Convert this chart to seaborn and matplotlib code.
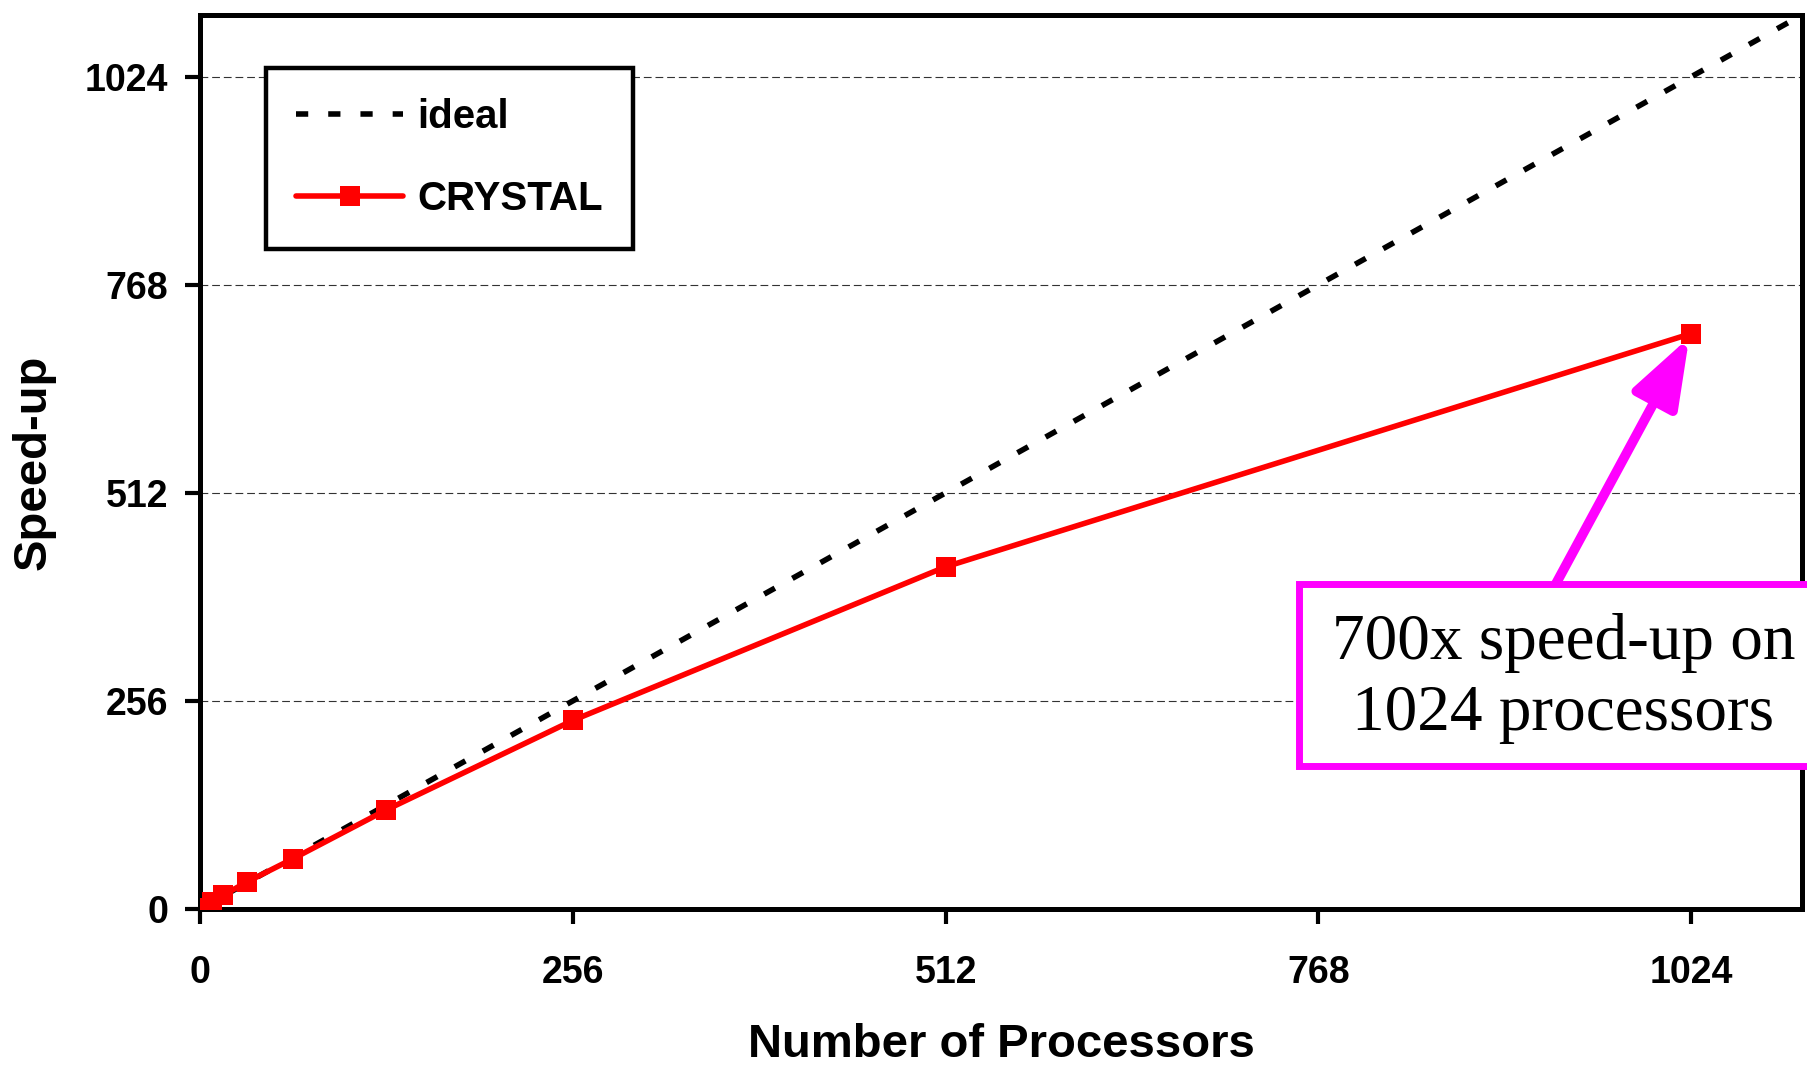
"""
Speed-up of CRYSTAL against the ideal linear scaling
"""

import matplotlib
matplotlib.use('Agg')
import matplotlib.pyplot as plt
import matplotlib.patches as mpatches
import seaborn as sns
import pandas as pd

# data
ideal_procs = [1, 8, 16, 32, 64, 128, 256, 512, 1024, 1100]
ideal_speedup = [1, 8, 16, 32, 64, 128, 256, 512, 1024, 1100]

crystal_procs = [1, 8, 16, 32, 64, 128, 256, 512, 1024]
crystal_speedup = [1, 8, 17, 33, 62, 122, 232, 421, 708]

tick_values = [0, 256, 512, 768, 1024]
note_text = '700x speed-up on\n1024 processors'

sns.set_style('white')
plt.rcParams['font.family'] = ['Liberation Sans', 'DejaVu Sans']
plt.rcParams['text.color'] = 'black'
plt.rcParams['axes.labelcolor'] = 'black'
plt.rcParams['xtick.color'] = 'black'
plt.rcParams['ytick.color'] = 'black'

ideal_df = pd.DataFrame({'procs': ideal_procs, 'speedup': ideal_speedup})
crystal_df = pd.DataFrame({'procs': crystal_procs, 'speedup': crystal_speedup})

fig = plt.figure(figsize=(18.07, 10.68), dpi=100, facecolor='white')
ax = fig.add_axes([0.1107, 0.1489, 0.8865, 0.8371])

# ideal scaling
sns.lineplot(data=ideal_df, x='procs', y='speedup', ax=ax, color='black',
             linewidth=4.0, linestyle=(0, (2.2, 3.6)), sort=False,
             errorbar=None, label='ideal', zorder=3)

# measured CRYSTAL speed-up
sns.lineplot(data=crystal_df, x='procs', y='speedup', ax=ax, color='#ff0000',
             linewidth=4.0, marker='s', markersize=15, markeredgewidth=0,
             sort=False, errorbar=None, label='CRYSTAL', zorder=4)

ax.set_xlim(0, 1100)
ax.set_ylim(0, 1100)
ax.set_xticks(tick_values)
ax.set_yticks(tick_values)
ax.set_xticklabels([str(v) for v in tick_values], fontsize=27, fontweight='bold')
ax.set_yticklabels([str(v) for v in tick_values], fontsize=27, fontweight='bold')
ax.tick_params(axis='both', direction='out', length=11, width=3,
               color='black', labelcolor='black', left=True, bottom=True)
ax.tick_params(axis='x', pad=22)
ax.tick_params(axis='y', pad=12)

ax.grid(axis='y', linestyle=(0, (7, 3.5)), color='#333333', linewidth=0.8)
ax.grid(axis='x', visible=False)
ax.set_axisbelow(True)

for side in ['left', 'right', 'top', 'bottom']:
    ax.spines[side].set_visible(True)
    ax.spines[side].set_color('black')
    ax.spines[side].set_linewidth(3.6)

ax.set_xlabel('Number of Processors', fontsize=34, fontweight='bold', labelpad=23,
              color='black')
ax.set_ylabel('Speed-up', fontsize=34, fontweight='bold', labelpad=21, color='black')

leg = ax.legend(loc='upper left', bbox_to_anchor=(0.0412, 0.9407),
                borderaxespad=0, prop={'weight': 'bold', 'size': 29},
                frameon=True, fancybox=False, edgecolor='black',
                handlelength=2.65, handletextpad=0.35, labelspacing=1.1,
                borderpad=0.75)
leg.get_frame().set_linewidth(3.2)
leg.get_frame().set_alpha(1)
for txt in leg.get_texts():
    txt.set_color('black')

# note box and arrow to the 1024-processor point
note_box = mpatches.Rectangle((0.686, 0.160), 0.4, 0.2035, transform=ax.transAxes,
                              facecolor='white', edgecolor='#ff00ff', linewidth=5,
                              clip_on=False, zorder=10)
ax.add_patch(note_box)
ax.text(0.851, 0.258, note_text, transform=ax.transAxes, ha='center', va='center',
        fontsize=47, family=['Liberation Serif', 'DejaVu Serif'], color='black',
        linespacing=1.25, zorder=11)
ax.annotate('', xy=(crystal_procs[-1], crystal_speedup[-1]), xytext=(931, 400),
            xycoords='data', textcoords='data',
            arrowprops=dict(arrowstyle='-|>,head_length=1.4,head_width=0.5',
                            mutation_scale=30, color='#ff00ff', linewidth=7,
                            shrinkA=0, shrinkB=3), zorder=9)

plt.savefig('out.png', dpi=100, facecolor='white')
plt.close()
